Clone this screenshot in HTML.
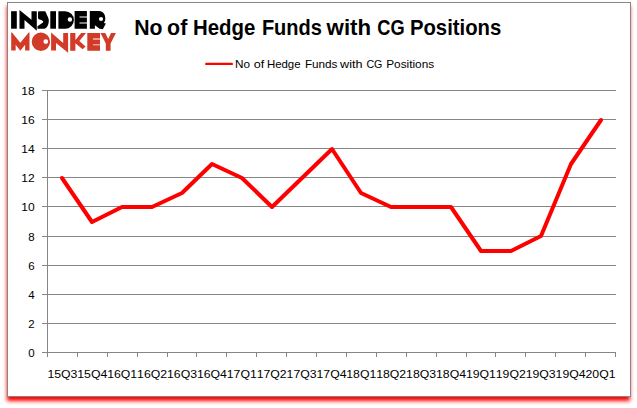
<!DOCTYPE html>
<html>
<head>
<meta charset="utf-8">
<title>No of Hedge Funds with CG Positions</title>
<style>
html,body{margin:0;padding:0;background:#fff;}
body{width:637px;height:408px;overflow:hidden;position:relative;font-family:"Liberation Sans",sans-serif;}
#shadow{position:absolute;left:7px;top:2px;width:623px;height:395px;box-shadow:0 4px 4px #ff0000;}
#frame{position:absolute;left:7px;top:2px;width:622px;height:393px;border:1px solid #868686;background:#fff;}
svg{position:absolute;left:0;top:0;}
text{font-family:"Liberation Sans",sans-serif;fill:#000;}
.t{font-weight:bold;font-size:22px;}
.l{font-size:11.5px;}
.a{font-size:11.5px;}
</style>
</head>
<body>
<div id="shadow"></div>
<div id="frame"></div>
<svg width="637" height="408" viewBox="0 0 637 408">

<g stroke="#868686" stroke-width="1" shape-rendering="crispEdges" fill="none">
<line x1="42" y1="352.5" x2="616" y2="352.5"/>
<line x1="42" y1="323.5" x2="616" y2="323.5"/>
<line x1="42" y1="294.5" x2="616" y2="294.5"/>
<line x1="42" y1="265.5" x2="616" y2="265.5"/>
<line x1="42" y1="236.5" x2="616" y2="236.5"/>
<line x1="42" y1="206.5" x2="616" y2="206.5"/>
<line x1="42" y1="177.5" x2="616" y2="177.5"/>
<line x1="42" y1="148.5" x2="616" y2="148.5"/>
<line x1="42" y1="119.5" x2="616" y2="119.5"/>
<line x1="42" y1="90.5" x2="616" y2="90.5"/>
<line x1="47.5" y1="90" x2="47.5" y2="353"/>
<line x1="77.5" y1="352" x2="77.5" y2="357"/>
<line x1="107.5" y1="352" x2="107.5" y2="357"/>
<line x1="137.5" y1="352" x2="137.5" y2="357"/>
<line x1="167.5" y1="352" x2="167.5" y2="357"/>
<line x1="196.5" y1="352" x2="196.5" y2="357"/>
<line x1="226.5" y1="352" x2="226.5" y2="357"/>
<line x1="256.5" y1="352" x2="256.5" y2="357"/>
<line x1="286.5" y1="352" x2="286.5" y2="357"/>
<line x1="316.5" y1="352" x2="316.5" y2="357"/>
<line x1="346.5" y1="352" x2="346.5" y2="357"/>
<line x1="376.5" y1="352" x2="376.5" y2="357"/>
<line x1="406.5" y1="352" x2="406.5" y2="357"/>
<line x1="436.5" y1="352" x2="436.5" y2="357"/>
<line x1="466.5" y1="352" x2="466.5" y2="357"/>
<line x1="495.5" y1="352" x2="495.5" y2="357"/>
<line x1="525.5" y1="352" x2="525.5" y2="357"/>
<line x1="555.5" y1="352" x2="555.5" y2="357"/>
<line x1="585.5" y1="352" x2="585.5" y2="357"/>
<line x1="615.5" y1="352" x2="615.5" y2="357"/>
<line x1="47.5" y1="352" x2="47.5" y2="357"/>
</g>
<g class="a" text-anchor="end">
<text x="34.6" y="357.0" textLength="6.4" lengthAdjust="spacingAndGlyphs">0</text>
<text x="34.6" y="327.9" textLength="6.4" lengthAdjust="spacingAndGlyphs">2</text>
<text x="34.6" y="298.8" textLength="6.4" lengthAdjust="spacingAndGlyphs">4</text>
<text x="34.6" y="269.7" textLength="6.4" lengthAdjust="spacingAndGlyphs">6</text>
<text x="34.6" y="240.6" textLength="6.4" lengthAdjust="spacingAndGlyphs">8</text>
<text x="34.6" y="211.4" textLength="13.4" lengthAdjust="spacingAndGlyphs">10</text>
<text x="34.6" y="182.3" textLength="13.4" lengthAdjust="spacingAndGlyphs">12</text>
<text x="34.6" y="153.2" textLength="13.4" lengthAdjust="spacingAndGlyphs">14</text>
<text x="34.6" y="124.1" textLength="13.4" lengthAdjust="spacingAndGlyphs">16</text>
<text x="34.6" y="95.0" textLength="13.4" lengthAdjust="spacingAndGlyphs">18</text>
</g>
<g class="a">
<text x="47.4" y="377.6" textLength="30.0" lengthAdjust="spacingAndGlyphs">15Q3</text>
<text x="77.3" y="377.6" textLength="30.0" lengthAdjust="spacingAndGlyphs">15Q4</text>
<text x="107.2" y="377.6" textLength="30.0" lengthAdjust="spacingAndGlyphs">16Q1</text>
<text x="137.1" y="377.6" textLength="30.0" lengthAdjust="spacingAndGlyphs">16Q2</text>
<text x="167.0" y="377.6" textLength="30.0" lengthAdjust="spacingAndGlyphs">16Q3</text>
<text x="196.9" y="377.6" textLength="30.0" lengthAdjust="spacingAndGlyphs">16Q4</text>
<text x="226.8" y="377.6" textLength="30.0" lengthAdjust="spacingAndGlyphs">17Q1</text>
<text x="256.7" y="377.6" textLength="30.0" lengthAdjust="spacingAndGlyphs">17Q2</text>
<text x="286.6" y="377.6" textLength="30.0" lengthAdjust="spacingAndGlyphs">17Q3</text>
<text x="316.5" y="377.6" textLength="30.0" lengthAdjust="spacingAndGlyphs">17Q4</text>
<text x="346.3" y="377.6" textLength="30.0" lengthAdjust="spacingAndGlyphs">18Q1</text>
<text x="376.2" y="377.6" textLength="30.0" lengthAdjust="spacingAndGlyphs">18Q2</text>
<text x="406.1" y="377.6" textLength="30.0" lengthAdjust="spacingAndGlyphs">18Q3</text>
<text x="436.0" y="377.6" textLength="30.0" lengthAdjust="spacingAndGlyphs">18Q4</text>
<text x="465.9" y="377.6" textLength="30.0" lengthAdjust="spacingAndGlyphs">19Q1</text>
<text x="495.8" y="377.6" textLength="30.0" lengthAdjust="spacingAndGlyphs">19Q2</text>
<text x="525.7" y="377.6" textLength="30.0" lengthAdjust="spacingAndGlyphs">19Q3</text>
<text x="555.6" y="377.6" textLength="30.0" lengthAdjust="spacingAndGlyphs">19Q4</text>
<text x="585.5" y="377.6" textLength="30.0" lengthAdjust="spacingAndGlyphs">20Q1</text>
</g>
<polyline points="62,178 92,222 122,207 152,207 182,193 212,164 242,178 272,207 302,178 332,149 361,193 391,207 421,207 451,207 481,251 511,251 541,236 571,164 601,120" fill="none" stroke="#ff0000" stroke-width="4" stroke-linejoin="round" stroke-linecap="round"/>
<g class="t">
<text x="134.2" y="34.8" textLength="28.3" lengthAdjust="spacingAndGlyphs">No</text>
<text x="167.1" y="34.8" textLength="20.2" lengthAdjust="spacingAndGlyphs">of</text>
<text x="193.0" y="34.8" textLength="62.4" lengthAdjust="spacingAndGlyphs">Hedge</text>
<text x="261.9" y="34.8" textLength="60.0" lengthAdjust="spacingAndGlyphs">Funds</text>
<text x="326.6" y="34.8" textLength="44.5" lengthAdjust="spacingAndGlyphs">with</text>
<text x="377.3" y="34.8" textLength="27.3" lengthAdjust="spacingAndGlyphs">CG</text>
<text x="409.9" y="34.8" textLength="91.4" lengthAdjust="spacingAndGlyphs">Positions</text>
</g>
<line x1="206.3" y1="63.9" x2="231.8" y2="63.9" stroke="#ff0000" stroke-width="2.4" stroke-linecap="round"/>
<g class="l">
<text x="235.1" y="67.6" textLength="15.0" lengthAdjust="spacingAndGlyphs">No</text>
<text x="253.7" y="67.6" textLength="10.5" lengthAdjust="spacingAndGlyphs">of</text>
<text x="266.9" y="67.6" textLength="33.7" lengthAdjust="spacingAndGlyphs">Hedge</text>
<text x="304.9" y="67.6" textLength="32.6" lengthAdjust="spacingAndGlyphs">Funds</text>
<text x="340.1" y="67.6" textLength="22.5" lengthAdjust="spacingAndGlyphs">with</text>
<text x="366.4" y="67.6" textLength="16.0" lengthAdjust="spacingAndGlyphs">CG</text>
<text x="386.2" y="67.6" textLength="48.0" lengthAdjust="spacingAndGlyphs">Positions</text>
</g>
<g fill="#000">
<rect x="11.1" y="11.2" width="5.7" height="17.5"/>
<polygon points="19.5,28.7 19.5,10.0 31.5,19.8 31.5,11.2 36.8,11.2 36.8,30.8 24.5,20 24.5,28.7"/>
<path d="M39,11.3 H45.2 C46.1,12.6 46.5,13.8 46.9,15 C47.8,16.8 48.8,18.5 48.8,20.5 C48.8,25.3 46.4,28.8 43.5,28.8 H37.5 V26.3 L42.6,22.7 C43.4,22.2 43.5,21.3 42.8,20.9 C41.5,20.2 39.5,19.7 38.6,19.1 C38.1,18.7 38,18.3 38,17.7 V13 C38,11.8 38.4,11.3 39,11.3 Z"/>
<rect x="50.3" y="11.2" width="5.7" height="17.5"/>
<path fill-rule="evenodd" d="M58.4,11.2 H65.15 A8.75,8.75 0 0 1 65.15,28.7 H58.4 Z M72.1,19.5 A2.2,2.2 0 1 0 67.7,19.5 A2.2,2.2 0 1 0 72.1,19.5 Z"/>
<path d="M74.6,11.1 H86.9 V16.6 H79.5 V17.4 H86.9 V22.6 H79.5 V23.4 H86.9 V28.7 H74.6 Z"/>
<path fill-rule="evenodd" d="M89.8,11.1 H99 C103.5,11.1 105.3,15 105.3,18.5 C105.3,20.5 104.5,22 103.8,23 L105.9,23.6 L102.8,29.3 L99.6,28.7 L94.9,25.2 V28.7 H89.8 Z M103.1,19 A2.1,2.1 0 1 0 98.9,19 A2.1,2.1 0 1 0 103.1,19 Z"/>
</g>
<g fill="#d13b27">
<polygon points="11.2,50.5 11.2,32.4 12,32.4 20.35,42.8 28.7,32.4 29.5,32.4 29.5,50.5 25.1,50.5 25.1,44.8 20.35,50.8 15.65,44.8 15.65,50.5"/>
<path fill-rule="evenodd" d="M50.1,41.7 A9.2,9.2 0 1 0 31.7,41.7 A9.2,9.2 0 1 0 50.1,41.7 Z M48.2,41.6 A2.4,2.4 0 1 0 43.4,41.6 A2.4,2.4 0 1 0 48.2,41.6 Z"/>
<polygon points="51.1,50.6 51.1,32.4 63.2,43.1 63.2,33.1 68.1,33.1 68.1,52.8 56,43 56,50.6"/>
<polygon points="70.2,33.1 75.4,33.1 75.4,40.1 81.1,33.1 86,33.1 79.4,41 85.6,46.5 82.6,49.2 75.4,43.3 75.4,50.7 70.2,50.7"/>
<path d="M87.3,33.1 H100 V38.6 H93 V39.5 H100 V44.4 H93 V45.3 H100 V50.7 H87.3 Z"/>
<polygon points="100.5,33.1 105.3,33.1 108.2,39 111,33.1 115.9,33.1 110.6,43.5 110.6,50.7 105.8,50.7 105.8,43.5"/>
</g>
</svg>
</body>
</html>
